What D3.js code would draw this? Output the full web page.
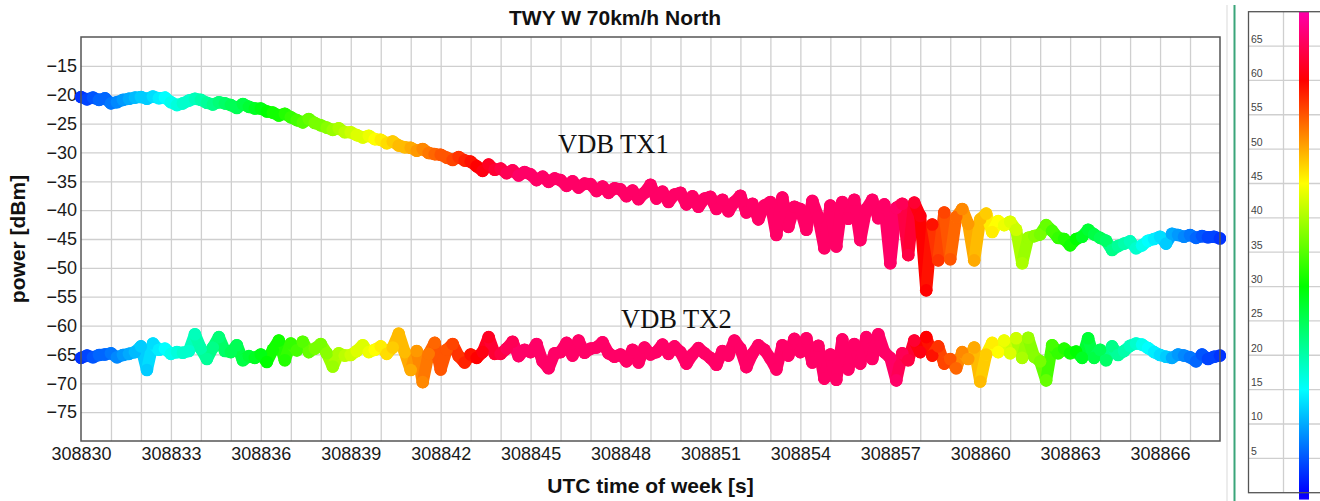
<!DOCTYPE html>
<html>
<head>
<meta charset="utf-8">
<script src="https://cdn.jsdelivr.net/npm/d3@7"></script>
<style>
    body { margin: 0; background: #fff; }
    svg { display: block; font-family: "Liberation Sans", Arial, sans-serif; }
</style>
</head>
<body>
<svg id="chart" width="1320" height="501"></svg>
<script>
// sample times start at T0 and step every DT seconds
var T0 = 308830,
    DT = 0.2;

var xTickLabels = [308830, 308833, 308836, 308839, 308842, 308845, 308848, 308851, 308854, 308857, 308860, 308863, 308866];
var yTickLabels = [-15, -20, -25, -30, -35, -40, -45, -50, -55, -60, -65, -70, -75];
var colorTickLabels = [5, 10, 15, 20, 25, 30, 35, 40, 45, 50, 55, 60, 65];

// power [dBm], VDB TX1 (5 samples per second)
var tx1 = [
    -20.4, -20.8, -20.5, -20.9, -20.6,   -21.5, -21.3, -20.9, -20.7, -20.5,   -20.4, -20.7, -20.3, -20.6, -20.5,
    -21.3, -21.8, -21.5, -21.0, -20.7,   -20.9, -21.4, -21.7, -21.3, -21.5,   -21.8, -22.3, -21.6, -22.1, -22.4,
    -22.4, -22.9, -23.1, -23.6, -23.3,   -23.9, -24.4, -24.8, -24.2, -24.9,   -25.3, -25.7, -26.1, -25.8, -26.5,
    -26.5, -27.0, -27.4, -27.1, -27.7,   -27.8, -28.4, -28.1, -28.8, -29.1,   -29.2, -29.7, -29.4, -30.1, -30.3,
    -30.4, -30.9, -31.3, -30.8, -31.4,   -31.6, -32.4, -33.2, -32.1, -33.0,   -32.8, -33.6, -33.1, -34.0, -33.4,
    -33.8, -34.8, -34.2, -35.1, -34.5,   -34.8, -35.8, -35.0, -36.1, -35.4,   -35.5, -36.7, -35.9, -37.0, -36.2,
    -36.4, -37.6, -36.6, -38.1, -37.0,   -35.6, -38.0, -36.8, -38.6, -37.3,   -37.0, -39.0, -37.6, -39.4, -38.0,
    -37.7, -39.8, -38.2, -40.2, -38.6,   -37.5, -40.4, -38.9, -41.6, -39.2,   -38.6, -44.3, -37.8, -42.9, -39.4,
    -39.8, -43.4, -38.4, -41.2, -46.6,   -39.2, -46.3, -38.6, -41.5, -38.2,   -45.2, -39.8, -38.2, -41.4, -39.0,
    -49.2, -39.6, -38.9, -47.8, -38.7,   -41.0, -53.9, -42.5, -48.7, -40.4,   -48.5, -41.2, -39.8, -42.4, -48.7,
    -41.6, -40.6, -43.8, -41.9, -42.6,   -42.0, -43.4, -49.2, -44.8, -44.5,   -44.2, -42.6, -43.6, -44.8, -45.0,
    -46.1, -45.0, -44.6, -43.4, -44.2,   -44.8, -45.3, -46.9, -46.2, -45.8,   -45.4, -46.6, -46.1, -45.3, -45.0,
    -44.6, -45.8, -44.1, -44.3, -44.6,   -44.3, -44.8, -44.5, -44.7, -44.6,   -44.9
];

// power [dBm], VDB TX2 (5 samples per second)
var tx2 = [
    -65.6, -65.2, -65.5, -65.1, -65.0,   -64.8, -65.5, -65.1, -64.9, -64.6,   -63.6, -67.7, -63.1, -64.2, -64.0,
    -64.9, -64.6, -64.7, -64.4, -61.5,   -64.0, -65.8, -63.8, -62.0, -64.4,   -64.6, -63.4, -66.0, -65.3, -65.6,
    -65.0, -66.3, -64.2, -62.6, -66.0,   -63.1, -64.3, -62.8, -64.6, -64.0,   -63.2, -64.8, -67.1, -64.8, -65.2,
    -65.1, -64.4, -63.4, -64.6, -64.2,   -63.6, -64.9, -63.8, -61.4, -64.6,   -67.7, -64.4, -69.8, -64.9, -63.0,
    -67.6, -64.2, -63.2, -65.3, -66.4,   -65.0, -65.6, -64.6, -62.0, -64.9,   -64.9, -64.0, -62.8, -65.3, -64.2,
    -64.6, -63.2, -66.2, -67.4, -64.8,   -64.6, -63.0, -65.2, -62.6, -64.7,   -64.0, -63.8, -62.9, -64.8, -65.4,
    -65.0, -66.2, -64.2, -66.4, -63.8,   -65.0, -64.6, -63.3, -64.9, -63.6,   -64.6, -66.6, -65.0, -63.9, -64.8,
    -65.6, -66.8, -64.4, -65.2, -62.6,   -64.0, -67.2, -64.9, -63.4, -64.2,   -65.7, -67.6, -63.4, -65.2, -62.3,
    -64.6, -62.2, -66.4, -63.5, -69.2,   -65.0, -69.4, -62.4, -67.6, -63.2,   -66.6, -62.0, -65.8, -61.5, -64.6,
    -65.6, -69.5, -64.8, -66.0, -62.6,   -64.6, -62.0, -65.2, -63.6, -66.6,   -65.8, -67.4, -64.6, -65.8, -63.8,
    -69.7, -65.0, -63.0, -64.6, -62.6,   -64.8, -62.2, -65.6, -62.1, -65.4,   -66.2, -69.5, -63.4, -64.8, -64.0,
    -64.8, -64.5, -65.6, -62.2, -65.6,   -64.2, -66.0, -63.6, -65.1, -64.4,   -63.5, -63.1, -63.3, -63.9, -64.6,
    -65.1, -65.4, -65.6, -65.0, -65.2,   -65.5, -66.2, -65.0, -65.8, -65.4,   -65.2
];

// colour-coded value of each sample (colour bar 0..70)
var colorVal = [
     3,  4,  5,  6,  6,    7,  8,  9, 10, 11,   12, 12, 13, 14, 15,   16, 17, 18, 18, 19,
    20, 21, 22, 23, 24,   25, 25, 26, 27, 28,   29, 30, 31, 31, 32,   33, 34, 35, 36, 37,
    37, 38, 39, 40, 41,   42, 43, 43, 44, 45,   46, 47, 48, 49, 49,   50, 51, 52, 53, 54,
    55, 55, 56, 57, 58,   59, 60, 61, 62, 63,   64, 65, 65, 66, 66,
    66, 66, 66, 66, 66,   66, 66, 66, 66, 66,   66, 66, 66, 66, 66,   66, 66, 66, 66, 66,
    66, 66, 66, 66, 66,   66, 66, 66, 66, 66,   66, 66, 66, 66, 66,   66, 66, 66, 66, 66,
    66, 66, 66, 66, 66,   66, 66, 66, 66, 66,   66, 66, 66, 66, 66,   66, 66, 66, 66, 66,
    66, 66, 65, 64, 63,   61, 60, 59, 57, 56,   55, 54, 52, 51, 50,   49, 48, 46, 45, 44,
    43, 42, 40, 39, 38,   37, 36, 34, 33, 32,   31, 30, 28, 27, 26,   25, 24, 22, 21, 20,
    19, 18, 16, 15, 14,   13, 12, 10,  9,  8,    7,  6,  5,  4,  4,    3
];

var svg = d3.select("#chart");

var plot = { left: 81, right: 1220, top: 37, bottom: 441 };

var x = d3.scaleLinear().domain([308830, 308868]).range([plot.left, plot.right]);
var y = d3.scaleLinear().domain([-80, -10]).range([plot.bottom, plot.top]);

function colorOf(c) {
    return d3.hsl(240 - 4 * c, 1, 0.5).formatHex();
}

// grid
svg.append("g")
    .attr("class", "grid")
    .attr("transform", "translate(0," + plot.bottom + ")")
    .call(d3.axisBottom(x).tickValues(d3.range(308831, 308868)).tickSize(-(plot.bottom - plot.top)).tickFormat(""))
    .call(function (g) { g.select(".domain").remove(); });

svg.append("g")
    .attr("class", "grid")
    .attr("transform", "translate(" + plot.left + ",0)")
    .call(d3.axisLeft(y).tickValues(d3.range(-75, -10, 5)).tickSize(-(plot.right - plot.left)).tickFormat(""))
    .call(function (g) { g.select(".domain").remove(); });

svg.selectAll(".grid line")
    .attr("stroke", "#cfcfcf")
    .attr("stroke-width", 1.3);

// tick labels
var xAxis = svg.append("g")
    .attr("transform", "translate(0," + plot.bottom + ")")
    .call(d3.axisBottom(x).tickValues(xTickLabels).tickSize(0).tickPadding(6).tickFormat(d3.format("d")));
xAxis.select(".domain").remove();
xAxis.selectAll("text")
    .attr("font-size", 18)
    .attr("font-family", "Liberation Sans, Arial, sans-serif")
    .attr("fill", "#1a1a1a");

var yAxis = svg.append("g")
    .attr("transform", "translate(" + plot.left + ",0)")
    .call(d3.axisLeft(y).tickValues(yTickLabels).tickSize(0).tickPadding(4));
yAxis.select(".domain").remove();
yAxis.selectAll("text")
    .attr("font-size", 18)
    .attr("font-family", "Liberation Sans, Arial, sans-serif")
    .attr("fill", "#1a1a1a");

// data
function toPoints(values) {
    return values.map(function (v, i) {
        return { t: T0 + i * DT, v: v, c: colorVal[i] };
    });
}

var series = [toPoints(tx1), toPoints(tx2)];

var traces = svg.append("g").attr("class", "traces");

series.forEach(function (pts) {
    var segs = d3.pairs(pts);
    traces.append("g")
        .selectAll("line")
        .data(segs)
        .enter()
        .append("line")
            .attr("x1", function (s) { return x(s[0].t); })
            .attr("y1", function (s) { return y(s[0].v); })
            .attr("x2", function (s) { return x(s[1].t); })
            .attr("y2", function (s) { return y(s[1].v); })
            .attr("stroke", function (s) { return colorOf(s[1].c); })
            .attr("stroke-width", 12)
            .attr("stroke-linecap", "round");

    traces.append("g")
        .selectAll("circle")
        .data(pts)
        .enter()
        .append("circle")
            .attr("cx", function (p) { return x(p.t); })
            .attr("cy", function (p) { return y(p.v); })
            .attr("r", 6.3)
            .attr("fill", function (p) { return colorOf(p.c); });
});

// frame
svg.append("rect")
    .attr("x", plot.left)
    .attr("y", plot.top)
    .attr("width", plot.right - plot.left)
    .attr("height", plot.bottom - plot.top)
    .attr("fill", "none")
    .attr("stroke", "#555")
    .attr("stroke-width", 1.5);

// titles
svg.append("text")
    .attr("x", 615)
    .attr("y", 25)
    .attr("text-anchor", "middle")
    .attr("font-size", 21)
    .attr("font-weight", "bold")
    .attr("fill", "#111")
    .text("TWY W 70km/h North");

svg.append("text")
    .attr("x", (plot.left + plot.right) / 2)
    .attr("y", 493)
    .attr("text-anchor", "middle")
    .attr("font-size", 21)
    .attr("font-weight", "bold")
    .attr("fill", "#111")
    .text("UTC time of week [s]");

svg.append("text")
    .attr("transform", "translate(25," + ((plot.top + plot.bottom) / 2) + ") rotate(-90)")
    .attr("text-anchor", "middle")
    .attr("font-size", 21)
    .attr("font-weight", "bold")
    .attr("fill", "#111")
    .text("power [dBm]");

svg.append("text")
    .attr("x", 558)
    .attr("y", 153)
    .attr("font-family", "Liberation Serif, Times New Roman, serif")
    .attr("font-size", 26.5)
    .attr("fill", "#111")
    .text("VDB TX1");

svg.append("text")
    .attr("x", 621)
    .attr("y", 328)
    .attr("font-family", "Liberation Serif, Times New Roman, serif")
    .attr("font-size", 26.5)
    .attr("fill", "#111")
    .text("VDB TX2");

// colour bar panel
svg.append("line")
    .attr("x1", 1227).attr("x2", 1227)
    .attr("y1", 5).attr("y2", 501)
    .attr("stroke", "#ececec")
    .attr("stroke-width", 2);

svg.append("line")
    .attr("x1", 1234.5).attr("x2", 1234.5)
    .attr("y1", 5).attr("y2", 501)
    .attr("stroke", "#3aa57a")
    .attr("stroke-width", 2);

var cb = { left: 1248.5, top: 11.7, bottom: 492.7 };
var cScale = d3.scaleLinear().domain([0, 70]).range([cb.bottom, cb.top]);

var grad = svg.append("defs")
    .append("linearGradient")
        .attr("id", "cbGrad")
        .attr("x1", 0).attr("y1", 1)
        .attr("x2", 0).attr("y2", 0);

grad.selectAll("stop")
    .data(d3.range(-1, 71, 1))
    .enter()
    .append("stop")
        .attr("offset", function (v) { return (v + 1) / 71; })
        .attr("stop-color", function (v) { return colorOf(v); });

svg.append("g")
    .selectAll("line")
    .data(colorTickLabels)
    .enter()
    .append("line")
        .attr("x1", cb.left)
        .attr("x2", 1320)
        .attr("y1", function (v) { return cScale(v); })
        .attr("y2", function (v) { return cScale(v); })
        .attr("stroke", "#cfcfcf")
        .attr("stroke-width", 1.3);

svg.append("line")
    .attr("x1", 1283.5).attr("x2", 1283.5)
    .attr("y1", cb.top).attr("y2", cb.bottom)
    .attr("stroke", "#cfcfcf")
    .attr("stroke-width", 1.3);

svg.append("rect")
    .attr("x", 1299)
    .attr("y", cScale(70))
    .attr("width", 10)
    .attr("height", cScale(-1) - cScale(70))
    .attr("fill", "url(#cbGrad)");

svg.append("rect")
    .attr("x", cb.left)
    .attr("y", cb.top)
    .attr("width", 120)
    .attr("height", cb.bottom - cb.top)
    .attr("fill", "none")
    .attr("stroke", "#555")
    .attr("stroke-width", 1.3);

svg.append("g")
    .selectAll("text")
    .data(colorTickLabels)
    .enter()
    .append("text")
        .attr("x", 1251)
        .attr("y", function (v) { return cScale(v) - 3.5; })
        .attr("font-size", 10.5)
        .attr("fill", "#444")
        .text(function (v) { return v; });
</script>
</body>
</html>
